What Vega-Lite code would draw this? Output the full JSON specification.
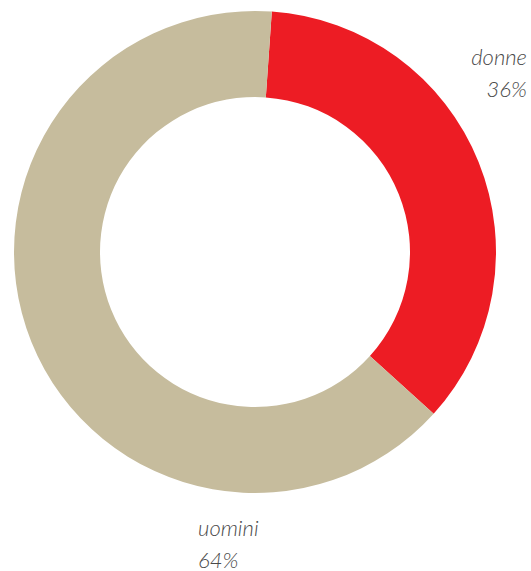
{
  "$schema": "https://vega.github.io/schema/vega-lite/v6.json",
  "width": 510,
  "height": 504,
  "autosize": {"type": "none"},
  "padding": {"left": 0, "top": 0, "right": 21, "bottom": 67},
  "background": "white",
  "config": {"view": {"stroke": null}},
  "data": {
    "values": [
      {"genere": "donne", "quota": 35.6, "ordine": 1},
      {"genere": "uomini", "quota": 64.4, "ordine": 2}
    ]
  },
  "transform": [
    {"calculate": "[datum.genere, format(datum.quota, '.0f') + '%']", "as": "etichetta"}
  ],
  "encoding": {
    "theta": {"field": "quota", "type": "quantitative", "stack": true, "scale": {"range": [0.0698, 6.353]}},
    "order": {"field": "ordine", "type": "quantitative"}
  },
  "layer": [
    {
      "mark": {"type": "arc", "outerRadius": 241, "innerRadius": 155, "stroke": null},
      "encoding": {
        "color": {
          "field": "genere",
          "type": "nominal",
          "scale": {"domain": ["donne", "uomini"], "range": ["#ed1c24", "#c6bc9d"]},
          "legend": null
        }
      }
    },
    {
      "mark": {"type": "text", "radius": 250, "align": "right", "baseline": "alphabetic", "dx": 40, "dy": -94, "font": "Lato", "fontStyle": "italic", "fontWeight": 300, "fontSize": 22, "lineHeight": 32, "color": "#4a4a4a"},
      "encoding": {
        "text": {"condition": {"test": "datum.genere == 'donne'", "field": "etichetta"}, "value": ""}
      }
    },
    {
      "mark": {"type": "text", "radius": 250, "align": "left", "baseline": "alphabetic", "dx": 175, "dy": 191, "font": "Lato", "fontStyle": "italic", "fontWeight": 300, "fontSize": 22, "lineHeight": 32, "color": "#4a4a4a"},
      "encoding": {
        "text": {"condition": {"test": "datum.genere == 'uomini'", "field": "etichetta"}, "value": ""}
      }
    }
  ]
}
